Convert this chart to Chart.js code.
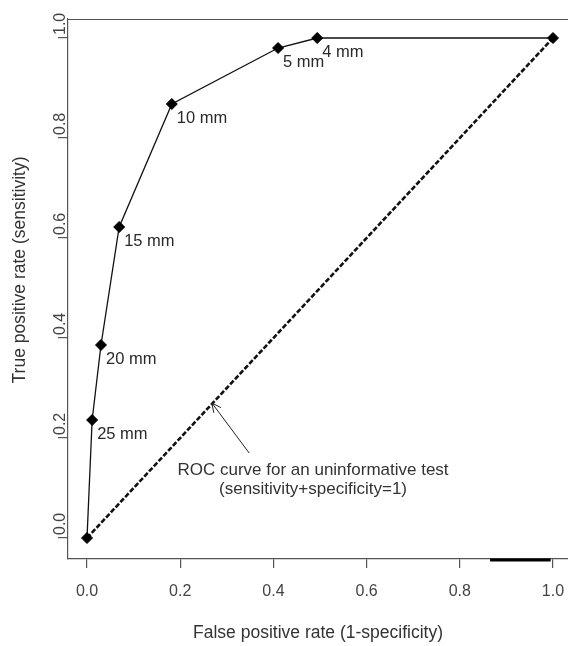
<!DOCTYPE html>
<html><head><meta charset="utf-8">
<script src="https://cdn.jsdelivr.net/npm/chart.js@4.4.1/dist/chart.umd.min.js"></script>
<style>html,body{margin:0;padding:0;background:#fff;}#wrap{width:568px;height:646px;position:relative;}</style>
</head><body><div id="wrap"><canvas id="c" width="568" height="646"></canvas></div>
<script>
// ---- data ----
const fpr = [0, 0.011, 0.030, 0.069, 0.182, 0.410, 0.494, 1.0];
const tpr = [0, 0.236, 0.386, 0.622, 0.868, 0.980, 1.0, 1.0];
const cutoffLabels = ['', '25 mm', '20 mm', '15 mm', '10 mm', '5 mm', '4 mm', ''];
const chanceX = [0, 1];
const chanceY = [0, 1];
const tickValues = [0, 0.2, 0.4, 0.6, 0.8, 1.0];
const xTitle = 'False positive rate (1-specificity)';
const yTitle = 'True positive rate (sensitivity)';
const noteLines = ['ROC curve for an uninformative test', '(sensitivity+specificity=1)'];
// annotation anchor (data coordinates)
const arrowTip = [0.268, 0.27];
const arrowTail = [0.348, 0.17];
const noteAt = [0.485, 0.136];
const bottomMark = [0.865, 0.995];

const FONT = '"Liberation Sans", Arial, Helvetica, sans-serif';

const decor = {
  id: 'decor',
  afterDatasetsDraw(chart) {
    const {ctx, chartArea: a, scales: {x, y}} = chart;
    ctx.save();
    // top frame line
    ctx.strokeStyle = '#555'; ctx.lineWidth = 1.2;
    ctx.beginPath(); ctx.moveTo(a.left, a.top + 0.5); ctx.lineTo(a.right + 2, a.top + 0.5); ctx.stroke();
    // thick mark on bottom axis
    ctx.strokeStyle = '#000'; ctx.lineWidth = 3;
    ctx.beginPath(); ctx.moveTo(x.getPixelForValue(bottomMark[0]), a.bottom + 1); ctx.lineTo(x.getPixelForValue(bottomMark[1]), a.bottom + 1); ctx.stroke();
    // cutoff labels
    ctx.fillStyle = '#2a2a2a';
    ctx.font = '16.5px ' + FONT;
    ctx.textAlign = 'left'; ctx.textBaseline = 'middle';
    cutoffLabels.forEach((t, i) => {
      if (!t) return;
      ctx.fillText(t, x.getPixelForValue(fpr[i]) + 5, y.getPixelForValue(tpr[i]) + 14.5);
    });
    // arrow
    const tx = x.getPixelForValue(arrowTip[0]), ty = y.getPixelForValue(arrowTip[1]);
    const sx = x.getPixelForValue(arrowTail[0]), sy = y.getPixelForValue(arrowTail[1]);
    ctx.strokeStyle = '#222'; ctx.lineWidth = 1;
    ctx.beginPath(); ctx.moveTo(sx, sy); ctx.lineTo(tx, ty); ctx.stroke();
    const ang = Math.atan2(ty - sy, tx - sx), L = 10, w = 0.45;
    ctx.beginPath();
    ctx.moveTo(tx - L * Math.cos(ang - w), ty - L * Math.sin(ang - w));
    ctx.lineTo(tx, ty);
    ctx.lineTo(tx - L * Math.cos(ang + w), ty - L * Math.sin(ang + w));
    ctx.stroke();
    // note text
    ctx.fillStyle = '#333';
    ctx.font = '17px ' + FONT;
    ctx.textAlign = 'center';
    const nx = x.getPixelForValue(noteAt[0]), ny = y.getPixelForValue(noteAt[1]);
    noteLines.forEach((t, i) => ctx.fillText(t, nx, ny + i * 19));
    ctx.restore();
  },
  afterDraw(chart) {
    const {ctx, chartArea: a, scales: {y}} = chart;
    ctx.save();
    ctx.fillStyle = '#444';
    ctx.font = '16px ' + FONT;
    ctx.textAlign = 'left'; ctx.textBaseline = 'alphabetic';
    y.ticks.forEach(t => {
      const py = y.getPixelForValue(t.value);
      ctx.save();
      ctx.translate(a.left - 3, py - 3);
      ctx.rotate(-Math.PI / 2);
      ctx.fillText(t.value.toFixed(1), 0, 0);
      ctx.restore();
    });
    // y title
    ctx.fillStyle = '#333';
    ctx.font = '17.5px ' + FONT;
    ctx.textAlign = 'center'; ctx.textBaseline = 'middle';
    ctx.translate(20, 270);
    ctx.rotate(-Math.PI / 2);
    ctx.fillText(yTitle, 0, 0);
    ctx.restore();
  }
};

new Chart(document.getElementById('c'), {
  type: 'scatter',
  data: {
    datasets: [
      {
        label: 'ROC',
        data: fpr.map((v, i) => ({x: v, y: tpr[i]})),
        showLine: true,
        borderColor: '#111', borderWidth: 1.3,
        pointStyle: 'rectRot', pointRadius: 5.5, pointHoverRadius: 5.5,
        pointBackgroundColor: '#000', pointBorderColor: '#000', pointBorderWidth: 1,
        order: 0, clip: false
      },
      {
        label: 'chance',
        data: chanceX.map((v, i) => ({x: v, y: chanceY[i]})),
        showLine: true,
        borderColor: '#111', borderWidth: 2.6, borderDash: [5, 2],
        pointRadius: 0, order: 1, clip: false
      }
    ]
  },
  options: {
    responsive: false, animation: false,
    layout: {autoPadding: false, padding: {top: 19, left: 0, right: 0, bottom: 0}},
    plugins: {legend: {display: false}, tooltip: {enabled: false}},
    scales: {
      x: {
        type: 'linear', min: -0.0408, max: 1.0322,
        afterBuildTicks: s => { s.ticks = tickValues.map(v => ({value: v})); },
        afterFit: s => { s.height = 87; s.paddingLeft = 0; s.paddingRight = 0; },
        ticks: {autoSkip: false, maxRotation: 0, padding: 14, color: '#444',
                font: {family: FONT, size: 16}, callback: v => Number(v).toFixed(1)},
        grid: {display: true, drawOnChartArea: false, drawTicks: true, tickLength: 9, color: '#555', lineWidth: 1.2},
        border: {display: true, color: '#555', width: 1.2},
        title: {display: true, text: xTitle, color: '#333', font: {family: FONT, size: 17.5}, padding: {top: 0, bottom: 2}}
      },
      y: {
        type: 'linear', min: -0.042, max: 1.038,
        afterBuildTicks: s => { s.ticks = tickValues.map(v => ({value: v})); },
        afterFit: s => { s.width = 68; s.paddingTop = 0; s.paddingBottom = 0; },
        ticks: {display: false},
        grid: {display: true, drawOnChartArea: false, drawTicks: true, tickLength: 10, color: '#555', lineWidth: 1.2},
        border: {display: true, color: '#555', width: 1.2}
      }
    }
  },
  plugins: [decor]
});
</script></body></html>
